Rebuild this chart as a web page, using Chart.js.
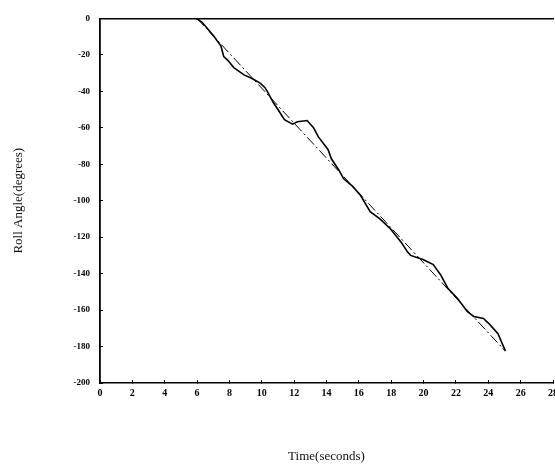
<!DOCTYPE html>
<html>
<head>
<meta charset="utf-8">
<script src="https://cdn.jsdelivr.net/npm/chart.js@4/dist/chart.umd.min.js"></script>
<style>
  html, body { margin: 0; padding: 0; background: #fff; overflow: hidden; }
  canvas { display: block; }
</style>
</head>
<body>
<canvas id="c" width="580" height="467"></canvas>
<script>
// Measured roll angle (solid line)
const measuredTime = [5.93, 6.3, 7.04, 7.3, 7.47, 7.65, 7.9, 8.27, 8.9, 9.4, 9.9, 10.2, 10.4, 10.7, 11.0, 11.4, 11.9, 12.2, 12.8, 13.2, 13.5, 14.1, 14.3, 14.75, 15.06, 15.6, 16.1, 16.7, 17.3, 17.96, 18.6, 19.0, 19.2, 20.0, 20.6, 21.05, 21.5, 22.1, 22.7, 23.1, 23.7, 24.1, 24.6, 25.06];
const measuredRoll = [0, -2, -9.8, -13, -15, -21, -23, -27, -31, -33, -35.5, -38, -41, -46, -50, -55.6, -58, -56.7, -56, -60, -65, -72, -77, -83, -88, -92, -97, -106, -110, -115.5, -122.6, -128, -130, -132.4, -135, -140.6, -148, -153.7, -160.8, -163.5, -164.6, -168, -173, -182.5];
// Commanded / reference roll (dash-dot line)
const referenceTime = [6, 25];
const referenceRoll = [0, -182];
// Axis ranges and ticks
const xTicks = [0, 2, 4, 6, 8, 10, 12, 14, 16, 18, 20, 22, 24, 26, 28];
const yTicks = [0, -20, -40, -60, -80, -100, -120, -140, -160, -180, -200];
const xTitle = 'Time(seconds)';
const yTitle = 'Roll Angle(degrees)';

const toPts = (xs, ys) => xs.map((x, i) => ({ x: x, y: ys[i] }));

new Chart(document.getElementById('c'), {
  type: 'line',
  data: {
    datasets: [
      {
        data: toPts(measuredTime, measuredRoll),
        borderColor: '#000',
        borderWidth: 1.6,
        pointRadius: 0,
        tension: 0,
        fill: false
      },
      {
        data: toPts(referenceTime, referenceRoll),
        borderColor: '#000',
        borderWidth: 1,
        borderDash: [10, 3, 2, 3],
        pointRadius: 0,
        tension: 0,
        fill: false
      }
    ]
  },
  options: {
    responsive: false,
    animation: false,
    devicePixelRatio: 1,
    layout: { padding: { top: 0, right: 27, bottom: 0, left: 0 } },
    plugins: { legend: { display: false }, tooltip: { enabled: false } },
    scales: {
      x: {
        type: 'linear',
        position: 'bottom',
        min: xTicks[0],
        max: xTicks[xTicks.length - 1],
        afterBuildTicks: (s) => { s.ticks = xTicks.map(v => ({ value: v })); },
        afterFit: (s) => { s.height = 84; },
        grid: { display: true, drawOnChartArea: false, drawTicks: true, tickLength: -3, color: '#000', lineWidth: 1 },
        border: { display: true, color: '#000', width: 1.6 },
        ticks: {
          color: '#000',
          padding: 7,
          maxRotation: 0,
          autoSkip: false,
          font: { family: 'Liberation Serif', size: 10, weight: 'bold' }
        },
        title: {
          display: true,
          text: xTitle,
          color: '#111',
          font: { family: 'Liberation Serif', size: 13 },
          padding: { top: 0, bottom: 3 }
        }
      },
      x2: {
        type: 'linear',
        position: 'top',
        display: true,
        min: xTicks[0],
        max: xTicks[xTicks.length - 1],
        afterFit: (s) => { s.height = 14; },
        grid: { display: false, drawTicks: false },
        border: { display: true, color: '#000', width: 1.5 },
        ticks: { display: false }
      },
      y: {
        type: 'linear',
        min: yTicks[yTicks.length - 1],
        max: yTicks[0],
        afterBuildTicks: (s) => { s.ticks = yTicks.map(v => ({ value: v })); },
        afterFit: (s) => { s.width = 100; },
        grid: { display: true, drawOnChartArea: false, drawTicks: true, tickLength: -3, color: '#000', lineWidth: 1 },
        border: { display: true, color: '#000', width: 1.8 },
        ticks: {
          color: '#000',
          padding: 13,
          autoSkip: false,
          font: { family: 'Liberation Serif', size: 9, weight: 'bold' }
        },
        title: {
          display: true,
          text: yTitle,
          color: '#111',
          font: { family: 'Liberation Serif', size: 13 },
          padding: { top: 11, bottom: 0 }
        }
      }
    }
  }
});
</script>
</body>
</html>
